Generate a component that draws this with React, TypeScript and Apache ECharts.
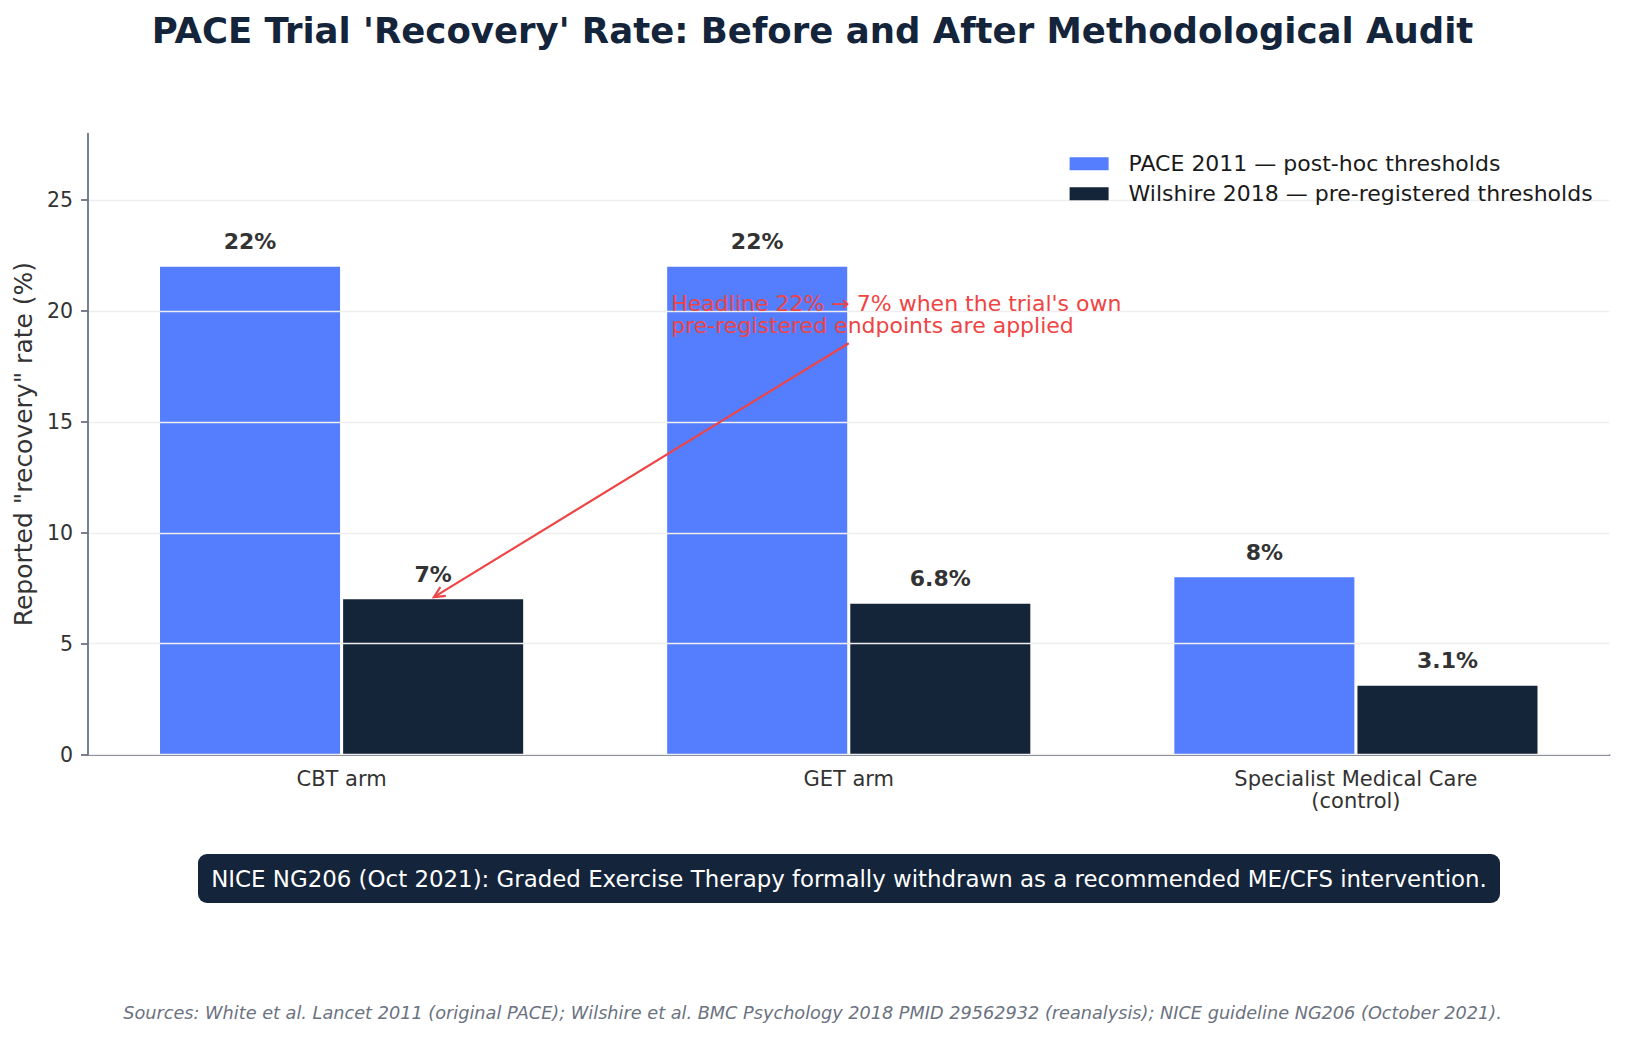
import React, { useEffect, useRef } from 'react';
import * as echarts from 'echarts';

// Trial arms and reported recovery rates (%)
const categories = ['CBT arm', 'GET arm', 'Specialist Medical Care\n(control)'];
const pace2011 = [22, 22, 8];
const wilshire2018 = [7, 6.8, 3.1];
const seriesNames = ['PACE 2011 — post-hoc thresholds', 'Wilshire 2018 — pre-registered thresholds'];
const yTicks = [0, 5, 10, 15, 20, 25];

const titleText = "PACE Trial 'Recovery' Rate: Before and After Methodological Audit";
const yAxisTitle = 'Reported "recovery" rate (%)';
const annotationLines = ["Headline 22% → 7% when the trial's own", 'pre-registered endpoints are applied'];
const noteText =
  'NICE NG206 (Oct 2021): Graded Exercise Therapy formally withdrawn as a recommended ME/CFS intervention.';
const sourcesText =
  'Sources: White et al. Lancet 2011 (original PACE); Wilshire et al. BMC Psychology 2018 PMID 29562932 (reanalysis); NICE guideline NG206 (October 2021).';

// Annotation anchors in data units (x measured in category index units)
const annotationAt = [0.65, 19.85];
const arrowFrom = [1.0, 18.55];
const arrowTo = [0.182, 7.1];

const BLUE = '#557EFF';
const NAVY = '#142539';
const RED = '#EF4444';
const AXIS = '#6B7280';
const FONT = 'DejaVu Sans';

export default function App() {
  const ref = useRef<HTMLDivElement>(null);

  useEffect(() => {
    if (!ref.current) return;
    const chart = echarts.init(ref.current, null, { renderer: 'svg' });

    const valueLabel = {
      show: true,
      position: 'top',
      distance: 14,
      fontFamily: FONT,
      fontSize: 22,
      fontWeight: 'bold',
      color: '#333333',
      formatter: (p: any) => `${p.value}%`,
    };

    chart.setOption({
      animation: false,
      backgroundColor: '#ffffff',
      textStyle: { fontFamily: FONT },
      grid: { left: 88, right: 15.5, top: 133.7, bottom: 283.5, containLabel: false },
      legend: {
        orient: 'vertical',
        left: 1069.6,
        top: 152.7,
        z: 10,
        padding: 0,
        itemWidth: 39,
        itemHeight: 13,
        itemGap: 8,
        icon: 'rect',
        textStyle: { fontFamily: FONT, fontSize: 22, color: '#1a1a1a', padding: [0, 0, 0, 15] },
        data: seriesNames,
      },
      xAxis: [
        {
          type: 'category',
          data: categories,
          axisLine: { lineStyle: { color: AXIS, width: 1.8 } },
          axisTick: { alignWithLabel: true, length: 7, lineStyle: { color: AXIS, width: 1.8 } },
          axisLabel: { fontFamily: FONT, fontSize: 21, color: '#333333', margin: 13, lineHeight: 22.5 },
        },
        { type: 'value', min: -0.5, max: 2.5, show: false },
      ],
      yAxis: {
        type: 'value',
        min: 0,
        max: 28,
        interval: 5,
        z: 5,
        name: yAxisTitle,
        nameLocation: 'middle',
        nameGap: 49.5,
        nameRotate: 90,
        nameTextStyle: { fontFamily: FONT, fontSize: 25, color: '#333333' },
        axisLine: { show: true, onZero: false, lineStyle: { color: AXIS, width: 1.8 } },
        axisTick: { show: true, length: 7, customValues: yTicks, lineStyle: { color: AXIS, width: 1.8 } },
        axisLabel: { fontFamily: FONT, fontSize: 20.5, color: '#333333', margin: 15, customValues: yTicks },
        splitLine: { show: true, lineStyle: { color: '#EEEEEE', width: 1.4 } },
      },
      series: [
        {
          name: seriesNames[0],
          type: 'bar',
          data: pace2011,
          barWidth: '35.5%',
          barGap: '1.7%',
          itemStyle: { color: BLUE },
          label: valueLabel,
        },
        {
          name: seriesNames[1],
          type: 'bar',
          data: wilshire2018,
          barWidth: '35.5%',
          barGap: '1.7%',
          itemStyle: { color: NAVY },
          label: valueLabel,
        },
      ],
    });

    const toPx = (v: number[]) => chart.convertToPixel({ xAxisIndex: 1, yAxisIndex: 0 }, v) as number[];
    const a = toPx(annotationAt);
    const from = toPx(arrowFrom);
    const to = toPx(arrowTo);
    const ang = Math.atan2(from[1] - to[1], from[0] - to[0]);
    const headLen = 12;
    const spread = 0.45;
    const head = [
      [to[0] + headLen * Math.cos(ang + spread), to[1] + headLen * Math.sin(ang + spread)],
      [to[0], to[1]],
      [to[0] + headLen * Math.cos(ang - spread), to[1] + headLen * Math.sin(ang - spread)],
    ];

    chart.setOption({
      graphic: [
        {
          type: 'text',
          left: 'center',
          top: 12,
          style: { text: titleText, font: `bold 35.5px "${FONT}"`, fill: '#14243A' },
        },
        {
          type: 'line',
          z: 20,
          shape: { x1: from[0], y1: from[1], x2: to[0], y2: to[1] },
          style: { stroke: RED, lineWidth: 2.2 },
        },
        {
          type: 'polyline',
          z: 20,
          shape: { points: head },
          style: { stroke: RED, lineWidth: 2.2, fill: null },
        },
        {
          type: 'text',
          z: 20,
          x: a[0],
          y: a[1],
          style: {
            text: annotationLines.join('\n'),
            font: `22px "${FONT}"`,
            lineHeight: 22.8,
            fill: RED,
            align: 'left',
            verticalAlign: 'middle',
          },
        },
        {
          type: 'rect',
          z: 20,
          shape: { x: 198, y: 854, width: 1302, height: 49, r: 9 },
          style: { fill: '#14243A' },
        },
        {
          type: 'text',
          z: 21,
          x: 849,
          y: 878.5,
          style: {
            text: noteText,
            font: `22.9px "${FONT}"`,
            fill: '#ffffff',
            align: 'center',
            verticalAlign: 'middle',
          },
        },
        {
          type: 'text',
          z: 20,
          x: 812.5,
          y: 1012.5,
          style: {
            text: sourcesText,
            font: `italic 17.7px "${FONT}"`,
            fill: '#6B7280',
            align: 'center',
            verticalAlign: 'middle',
          },
        },
      ],
    });

    return () => chart.dispose();
  }, []);

  return (
    <div
      ref={ref}
      style={{ position: 'fixed', left: 0, top: 0, width: 1625, height: 1038, background: '#ffffff' }}
    />
  );
}
